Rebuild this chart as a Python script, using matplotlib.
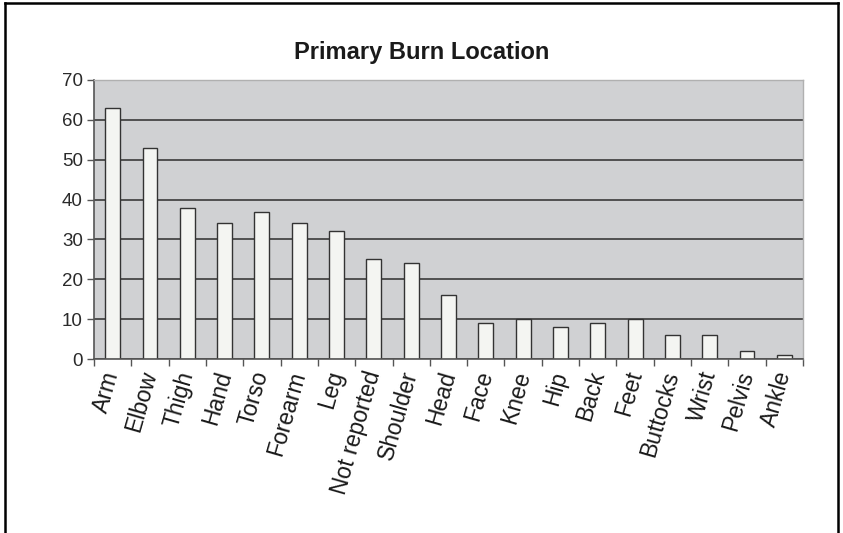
import numpy as np
import matplotlib.pyplot as plt
from matplotlib.lines import Line2D

# datos del grafico
locations = ['Arm', 'Elbow', 'Thigh', 'Hand', 'Torso', 'Forearm', 'Leg', 'Not reported',
             'Shoulder', 'Head', 'Face', 'Knee', 'Hip', 'Back', 'Feet', 'Buttocks',
             'Wrist', 'Pelvis', 'Ankle']
counts = [63, 53, 38, 34, 37, 34, 32, 25, 24, 16, 9, 10, 8, 9, 10, 6, 6, 2, 1]
yticks = [0, 10, 20, 30, 40, 50, 60, 70]

plt.rcParams['font.family'] = ['Liberation Sans', 'DejaVu Sans']

fig = plt.figure(figsize=(8.43, 5.33), dpi=100)
ax = fig.add_axes([94 / 843, 1 - 359 / 533, (803 - 94) / 843, (359 - 80) / 533])

x = np.arange(len(locations))
ax.set_facecolor('#d0d1d3')
ax.bar(x, counts, width=0.4, color='#f4f5f2', edgecolor='#333333', linewidth=1, zorder=3)

ax.set_xlim(-0.5, len(locations) - 0.5)
ax.set_ylim(0, 70)
ax.set_yticks(yticks)
ax.yaxis.grid(True, color='#3a3a3a', linewidth=1.2, zorder=1)
ax.set_axisbelow(True)

ax.set_xticks(x)
ax.set_xticklabels(locations, rotation=74, ha='right', va='center',
                   rotation_mode='anchor', fontsize=16.5, color='#1a1a1a')
ax.set_xticks(np.arange(len(locations) + 1) - 0.5, minor=True)
ax.tick_params(axis='x', which='major', length=0, pad=9)
ax.tick_params(axis='x', which='minor', length=5, width=1, color='#555555', direction='out')
ax.tick_params(axis='y', length=5, width=1, color='#555555', direction='out',
               labelsize=13.5, labelcolor='#2a2a2a', pad=3)

for s in ['top', 'right']:
    ax.spines[s].set_color('#b0b0b0')
    ax.spines[s].set_linewidth(1)
for s in ['left', 'bottom']:
    ax.spines[s].set_color('#555555')
    ax.spines[s].set_linewidth(1.2)
ax.spines['bottom'].set_zorder(4)

fig.text(422 / 843, 1 - 52 / 533, 'Primary Burn Location', ha='center', va='center',
         fontsize=17, fontweight='bold', color='#1a1a1a',
         family=['Liberation Sans Narrow', 'Liberation Sans', 'DejaVu Sans'])

# marco exterior
fig.add_artist(Line2D([5 / 843, 5 / 843], [0, 1 - 3 / 533], transform=fig.transFigure,
                      color='black', linewidth=1.8))
fig.add_artist(Line2D([5 / 843, 838 / 843], [1 - 3 / 533, 1 - 3 / 533], transform=fig.transFigure,
                      color='black', linewidth=1.8))
fig.add_artist(Line2D([838 / 843, 838 / 843], [0, 1 - 3 / 533], transform=fig.transFigure,
                      color='black', linewidth=1.8))

fig.savefig('out.png', dpi=100)
